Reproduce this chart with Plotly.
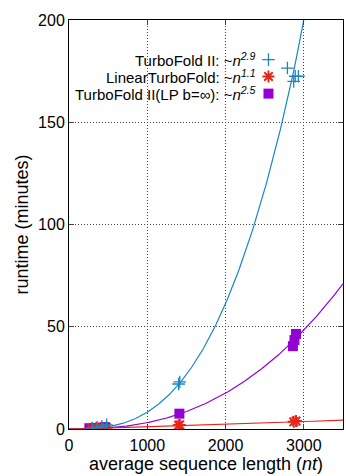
import numpy as np
import plotly.graph_objects as go

# data points
tf_x = [300, 360, 420, 480, 1400, 1415, 2790, 2870, 2890, 2930]
tf_y = [0.5, 0.8, 1.3, 2.0, 22.0, 23.0, 176.5, 170.0, 172.5, 172.5]
lin_x = [290, 350, 420, 480, 1400, 1415, 2870, 2900]
lin_y = [0.3, 0.4, 0.5, 0.6, 1.8, 2.0, 3.5, 3.9]
lp_x = [260, 330, 400, 460, 1410, 2860, 2880, 2900]
lp_y = [0.4, 0.5, 0.7, 0.9, 7.5, 40.5, 43.5, 46.5]

# fit curves: a * n^k
tf_k, tf_a = 2.9, 200 / 3006 ** 2.9
lin_k, lin_a = 1.1, 4.3 / 3500 ** 1.1
lp_k, lp_a = 2.5, 71 / 3500 ** 2.5

legend_labels = ["TurboFold II: ~<i>n</i><sup><i>2.9</i></sup>",
                 "LinearTurboFold: ~<i>n</i><sup><i>1.1</i></sup>",
                 "TurboFold II(LP b=∞): ~<i>n</i><sup><i>2.5</i></sup>"]

x_ticks = [0, 1000, 2000, 3000]
y_ticks = [0, 50, 100, 150, 200]

BLUE = "#1a86c6"
RED = "#e8251b"
PURPLE = "#9400d3"

xs = np.linspace(1, 3500, 400)
fig = go.Figure()
fig.add_trace(go.Scatter(x=xs, y=tf_a * xs ** tf_k, mode="lines",
                         line=dict(color=BLUE, width=1.2), hoverinfo="skip"))
fig.add_trace(go.Scatter(x=xs, y=lp_a * xs ** lp_k, mode="lines",
                         line=dict(color=PURPLE, width=1.2), hoverinfo="skip"))
fig.add_trace(go.Scatter(x=xs, y=lin_a * xs ** lin_k, mode="lines",
                         line=dict(color=RED, width=1.2), hoverinfo="skip"))

fig.add_trace(go.Scatter(x=lp_x, y=lp_y, mode="markers",
                         marker=dict(symbol="square", size=10, color=PURPLE)))
fig.add_trace(go.Scatter(x=lin_x, y=lin_y, mode="markers",
                         marker=dict(symbol="asterisk-open", size=10, color=RED,
                                     line=dict(color=RED, width=2))))
fig.add_trace(go.Scatter(x=tf_x, y=tf_y, mode="markers",
                         marker=dict(symbol="cross-thin-open", size=9, color=BLUE,
                                     line=dict(color=BLUE, width=1.3))))

# key on an overlay axis in [0,1]
key_y = [0.903, 0.862, 0.82]
key_sym = [dict(symbol="cross-thin-open", size=9, color=BLUE, line=dict(color=BLUE, width=1.3)),
           dict(symbol="asterisk-open", size=10, color=RED, line=dict(color=RED, width=2)),
           dict(symbol="square", size=10, color=PURPLE)]
for yy, lab, sym in zip(key_y, legend_labels, key_sym):
    fig.add_trace(go.Scatter(x=[0.728], y=[yy], mode="markers", marker=sym,
                             xaxis="x2", yaxis="y2", hoverinfo="skip"))
    fig.add_annotation(x=0.69, y=yy, xref="x2", yref="y2", text=lab,
                       showarrow=False, xanchor="right", yanchor="middle",
                       font=dict(size=15, color="black"))

grid = dict(showgrid=True, gridcolor="#444", griddash="1px,2px", gridwidth=0.7)
fig.update_layout(
    width=346, height=476,
    margin=dict(l=69, r=3, t=20, b=47),
    plot_bgcolor="white", paper_bgcolor="white",
    showlegend=False,
    font=dict(family="Liberation Sans, Arial, sans-serif", color="black"),
    xaxis=dict(range=[0, 3500], tickvals=x_ticks, ticks="inside", ticklen=5,
               showline=True, mirror="ticks", linecolor="black", linewidth=1,
               zeroline=False, tickfont=dict(size=16), ticklabelstandoff=2, **grid,
               title=dict(text="average sequence length (<i>nt</i>)",
                          font=dict(size=18), standoff=0)),
    yaxis=dict(range=[0, 200], tickvals=y_ticks, ticks="inside", ticklen=5,
               showline=True, mirror="ticks", linecolor="black", linewidth=1,
               zeroline=False, tickfont=dict(size=16), **grid,
               title=dict(text="runtime (minutes)", font=dict(size=18), standoff=4)),
    xaxis2=dict(range=[0, 1], overlaying="x", visible=False),
    yaxis2=dict(range=[0, 1], overlaying="y", visible=False),
)

fig.write_html("out.html")
